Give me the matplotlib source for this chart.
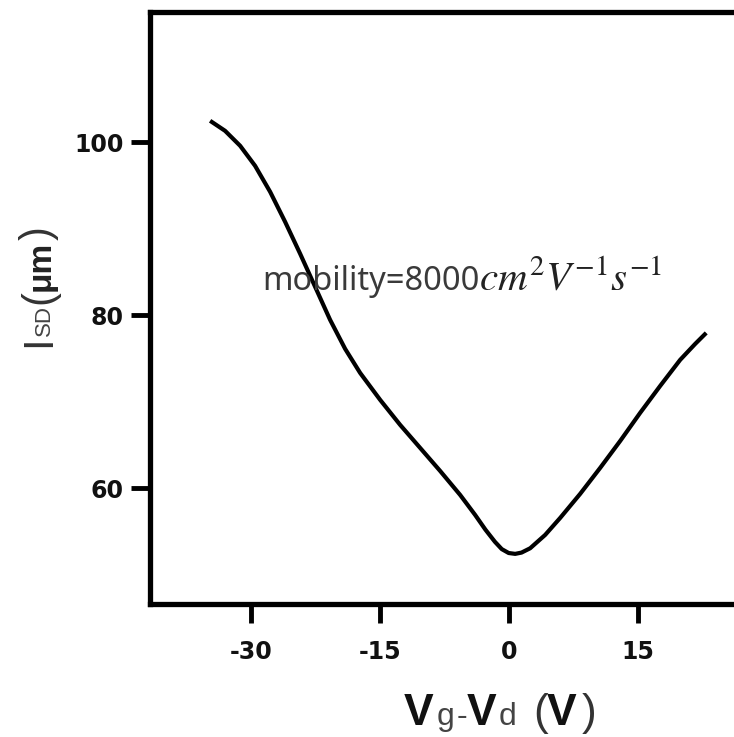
import matplotlib
matplotlib.use("Agg")
import matplotlib.pyplot as plt
import matplotlib.transforms as mtransforms

plt.rcParams['axes.unicode_minus'] = False
plt.rcParams['mathtext.fontset'] = 'stix'

# Data
vg_vd = [-34.71, -32.97, -31.22, -29.48, -27.73, -25.99, -24.24, -22.50, -20.76,
         -19.01, -17.27, -14.94, -12.62, -10.29, -7.97, -5.64, -3.90, -2.70, -1.60,
         -0.80, 0.00, 0.76, 1.50, 2.50, 4.24, 5.99, 8.31, 10.64, 12.97,
         15.29, 17.62, 19.94, 21.69, 22.97]
isd = [102.51, 101.35, 99.62, 97.30, 94.29, 90.82, 87.12, 83.30, 79.48,
       76.12, 73.34, 70.22, 67.33, 64.66, 62.00, 59.22, 56.91, 55.20, 53.80,
       52.95, 52.50, 52.40, 52.55, 53.05, 54.59, 56.56, 59.34, 62.35, 65.47,
       68.72, 71.84, 74.85, 76.70, 77.97]
xticks = [-30, -15, 0, 15]
yticks = [60, 80, 100]
annotation = "mobility=8000"
annotation_math = r"$cm^{2}V^{-1}s^{-1}$"

W, H = 734, 737
fig = plt.figure(figsize=(W / 100, H / 100), dpi=100)
ax = fig.add_axes([150 / W, 1 - 604 / H, (W - 150) / W, (604 - 12) / H])

ax.plot(vg_vd, isd, color='black', lw=3.0, solid_capstyle='butt',
        solid_joinstyle='round')
ax.set_xlim(-41.7, 26.2)
ax.set_ylim(46.6, 115.1)
ax.set_xticks(xticks)
ax.set_yticks(yticks)
ax.set_xticklabels([str(v) for v in xticks], fontfamily='DejaVu Sans',
                   fontweight='bold', fontsize=17, color='#111111')
ax.set_yticklabels([str(v) for v in yticks], fontfamily='DejaVu Sans',
                   fontweight='bold', fontsize=17, color='#111111')
ax.tick_params(axis='both', direction='out', length=14, width=3.5, color='black')
ax.tick_params(axis='x', pad=12)
ax.tick_params(axis='y', pad=5)
for side in ['left', 'bottom', 'top']:
    ax.spines[side].set_linewidth(3.8)
    ax.spines[side].set_color('black')
ax.spines['right'].set_visible(False)

renderer = fig.canvas.get_renderer()
ident = mtransforms.IdentityTransform()


def chain(pieces, x0, y0_img, rotation=0):
    x, y = x0, H - y0_img
    for s, kw in pieces:
        if rotation:
            t = fig.text(x, y, s, transform=ident, rotation=90,
                         rotation_mode='anchor', ha='left', va='baseline', **kw)
            bb = t.get_window_extent(renderer)
            y = bb.y1
        else:
            t = fig.text(x, y, s, transform=ident, ha='left', va='baseline', **kw)
            bb = t.get_window_extent(renderer)
            x = bb.x1


# x label: Vg-Vd (V), pieces placed at pixel positions
big_b = dict(fontfamily='Liberation Sans', fontweight='bold', fontsize=32, color='#111111')
small = dict(fontfamily='Liberation Sans', fontsize=23, color='#444444')
big_n = dict(fontfamily='Liberation Sans', fontsize=32, color='#333333')
xl_pieces = [("V", big_b, 404), ("g", small, 437), ("-", small, 457), ("V", big_b, 467),
             ("d", small, 499), ("(", big_n, 533), ("V", big_b, 547), (")", big_n, 582)]
for s, kw, px in xl_pieces:
    fig.text(px, H - 725, s, transform=ident, ha='left', va='baseline', **kw)

# y label: ISD(μm)
ybig = dict(fontfamily='Liberation Sans', fontsize=30, color='#333333')
ysmall = dict(fontfamily='Liberation Sans', fontsize=16, color='#444444')
ybold = dict(fontfamily='Liberation Sans', fontweight='bold', fontsize=24, color='#222222')
chain([("I", ybig), ("SD", ysmall), ("(", ybig), ("μm", ybold), (")", ybig)],
      50, 347, rotation=90)

# annotation
chain([(annotation, dict(fontfamily='Noto Sans', fontsize=23.5, color='#3a3a3a')),
       (annotation_math, dict(fontsize=29.5, color='#222222'))], 262, 290)

fig.savefig("out.png", dpi=100)
